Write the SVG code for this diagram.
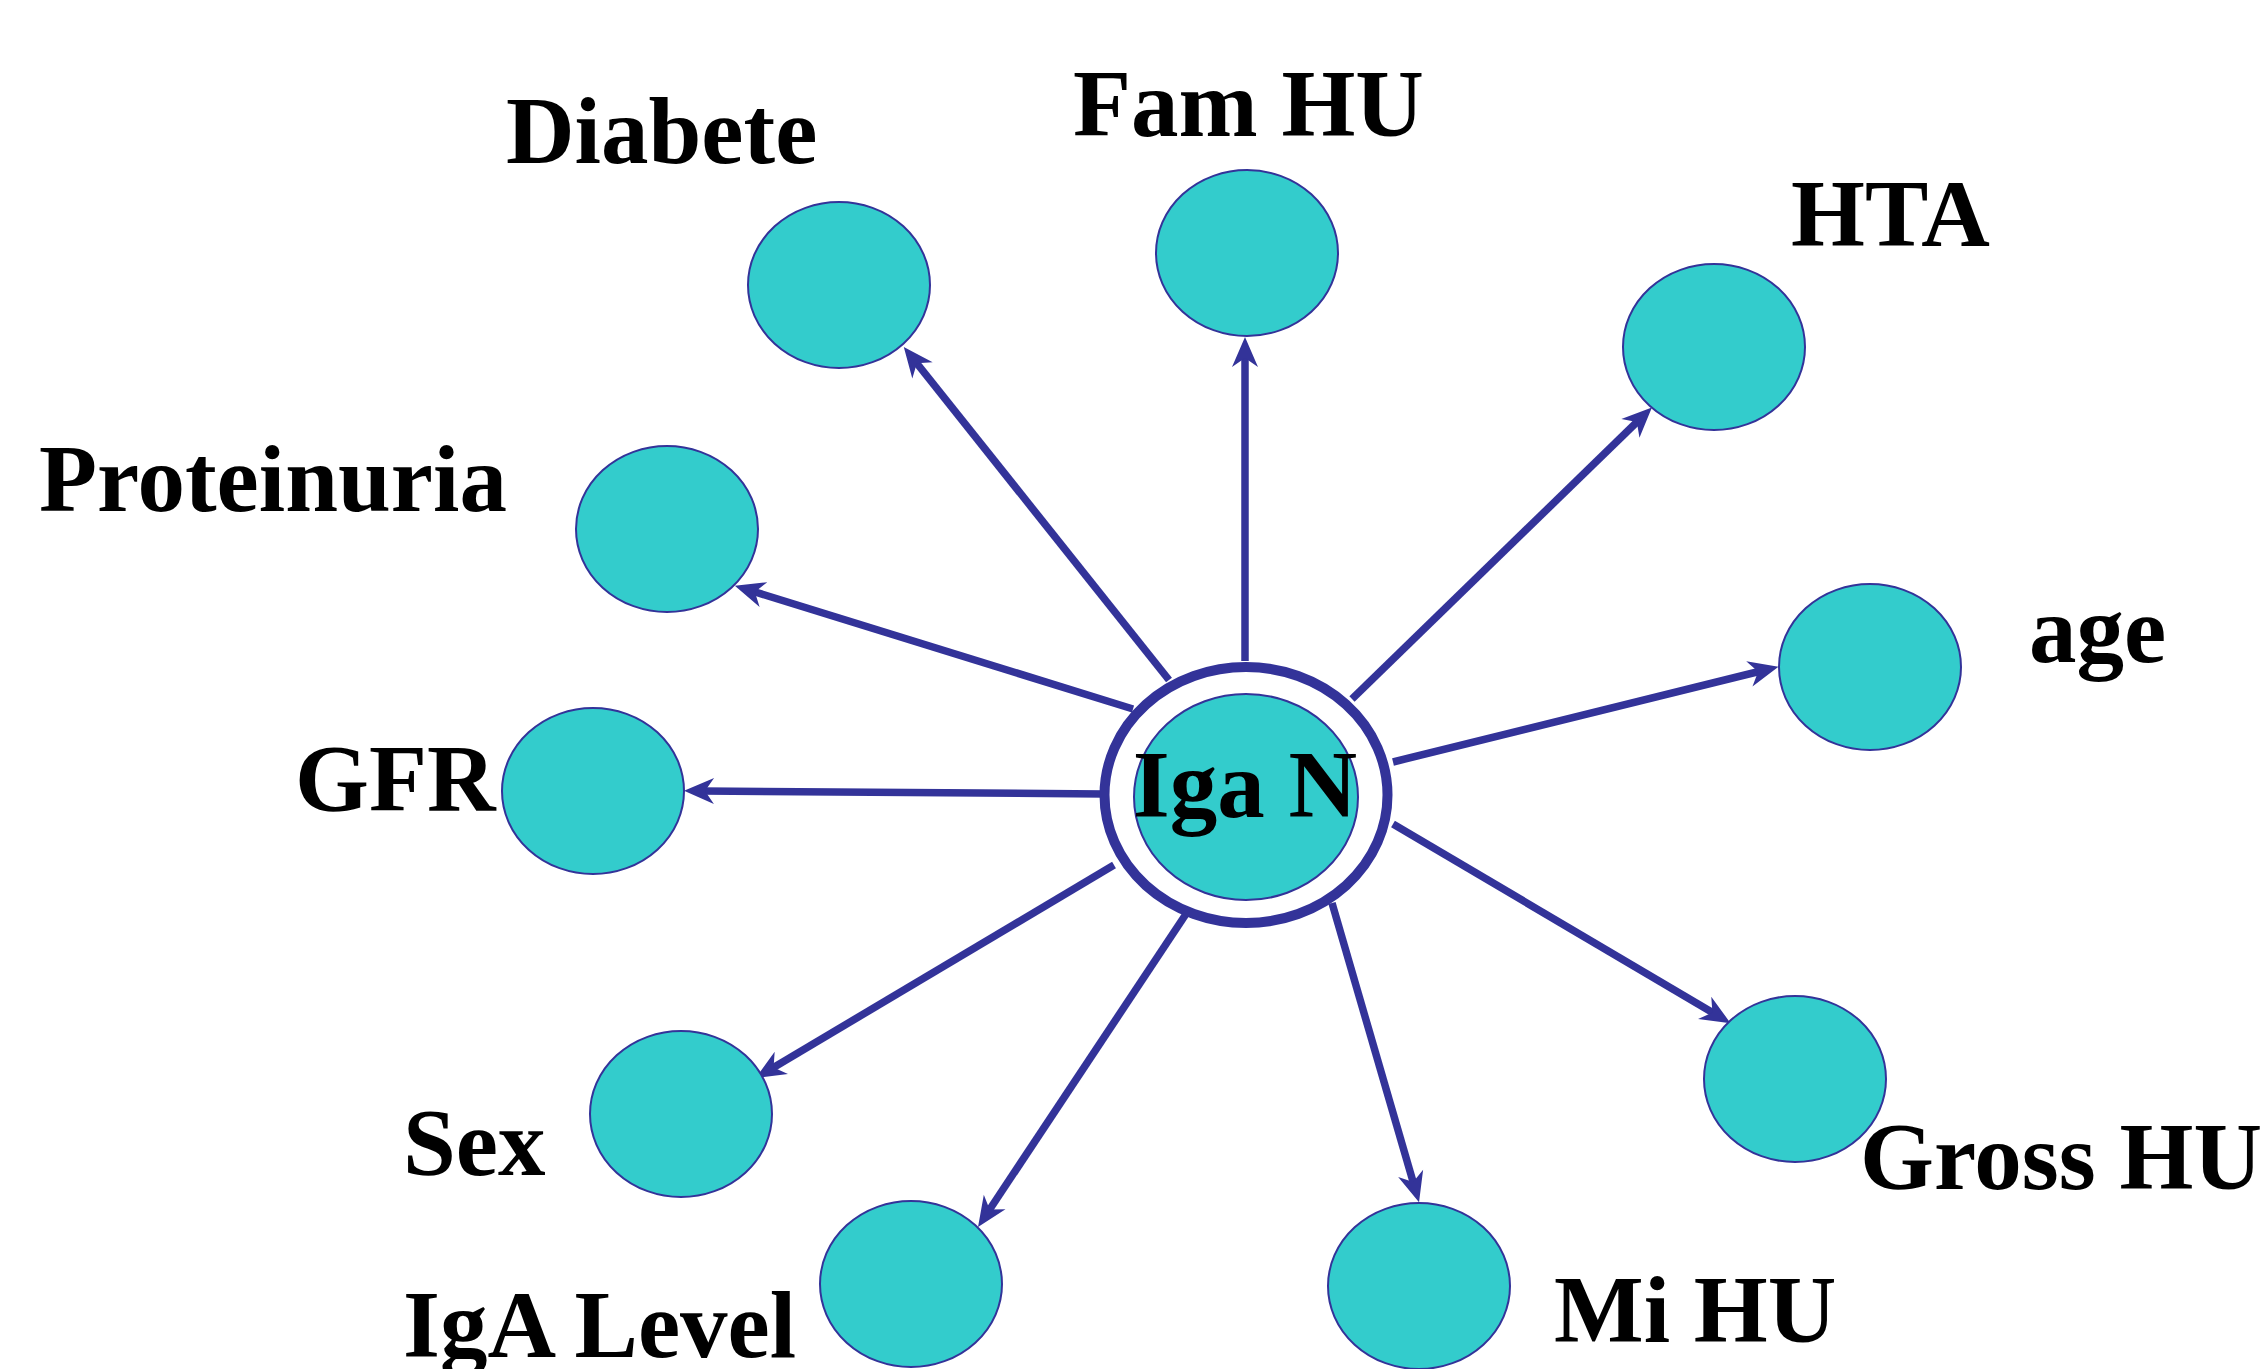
<svg xmlns="http://www.w3.org/2000/svg" width="2268" height="1369" viewBox="0 0 2268 1369">
<style>
.n{fill:#33CCCC;stroke:#333399;stroke-width:2}
.c line{stroke:#333399;stroke-width:7.5;marker-end:url(#ah)}
text{font-family:"Liberation Serif","Times New Roman",serif;font-weight:bold;font-size:95px;fill:#000}
</style>
<defs>
<marker id="ah" markerUnits="userSpaceOnUse" markerWidth="32" markerHeight="28" refX="12" refY="13" orient="auto" overflow="visible">
<path d="M0,0 L30,13 L0,26 L9,13 Z" fill="#333399"/>
</marker>
</defs>
<rect width="2268" height="1369" fill="#fff"/>
<g class="c" id="connectors">
<line x1="1169" y1="680" x2="915" y2="361"/>
<line x1="1245" y1="661" x2="1245" y2="355"/>
<line x1="1352" y1="699" x2="1639" y2="420"/>
<line x1="1133" y1="709" x2="752" y2="591"/>
<line x1="1393" y1="762" x2="1761" y2="671"/>
<line x1="1104" y1="794" x2="702" y2="791"/>
<line x1="1393" y1="824" x2="1715" y2="1014"/>
<line x1="1114" y1="865" x2="771" y2="1069"/>
<line x1="1186" y1="914" x2="988" y2="1212"/>
<line x1="1332" y1="903" x2="1414" y2="1185"/>
</g>
<g id="igaN">
<ellipse cx="1246" cy="795" rx="141.5" ry="128" fill="#fff" stroke="#333399" stroke-width="10"/>
<ellipse class="n" cx="1246" cy="797" rx="112" ry="103"/>
<text x="1245" y="817" text-anchor="middle">Iga N</text>
</g>
<g id="diabete"><ellipse class="n" cx="839" cy="285" rx="91" ry="83"/><text x="506" y="163">Diabete</text></g>
<g id="famHU"><ellipse class="n" cx="1247" cy="253" rx="91" ry="83"/><text x="1073" y="136">Fam HU</text></g>
<g id="hta"><ellipse class="n" cx="1714" cy="347" rx="91" ry="83"/><text x="1791" y="246">HTA</text></g>
<g id="proteinuria"><ellipse class="n" cx="667" cy="529" rx="91" ry="83"/><text x="39" y="511">Proteinuria</text></g>
<g id="age"><ellipse class="n" cx="1870" cy="667" rx="91" ry="83"/><text x="2029" y="662">age</text></g>
<g id="gfr"><ellipse class="n" cx="593" cy="791" rx="91" ry="83"/><text x="295" y="811">GFR</text></g>
<g id="grossHU"><ellipse class="n" cx="1795" cy="1079" rx="91" ry="83"/><text x="1860" y="1189">Gross HU</text></g>
<g id="sex"><ellipse class="n" cx="681" cy="1114" rx="91" ry="83"/><text x="403" y="1175">Sex</text></g>
<g id="igaLevel"><ellipse class="n" cx="911" cy="1284" rx="91" ry="83"/><text x="403" y="1357">IgA Level</text></g>
<g id="miHU"><ellipse class="n" cx="1419" cy="1286" rx="91" ry="83"/><text x="1554" y="1342">Mi HU</text></g>
</svg>
